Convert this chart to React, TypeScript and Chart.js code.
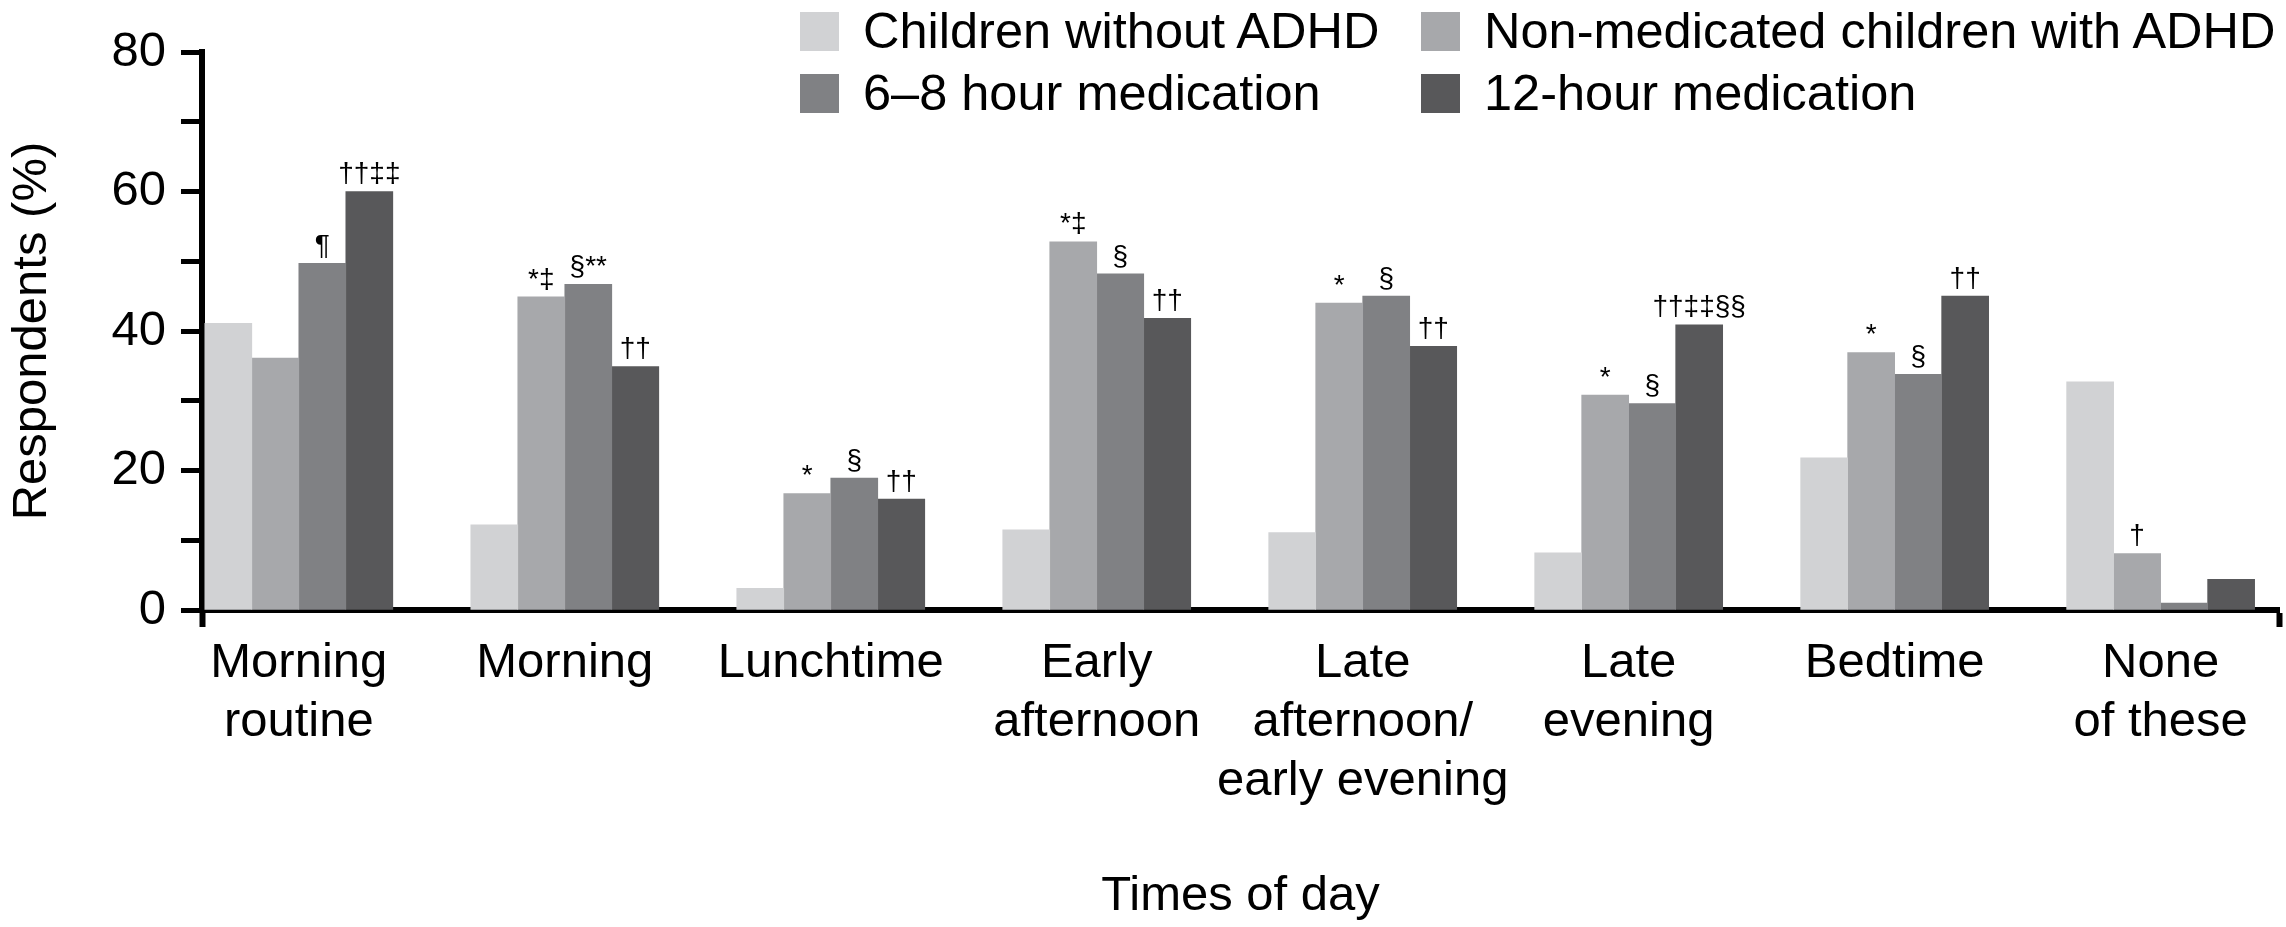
import React, { useEffect, useRef } from "react";
import { Chart, registerables } from "chart.js";

Chart.register(...registerables);

// Times of day (multi-line axis labels)
const categories: string[][] = [
  ["Morning", "routine"],
  ["Morning"],
  ["Lunchtime"],
  ["Early", "afternoon"],
  ["Late", "afternoon/", "early evening"],
  ["Late", "evening"],
  ["Bedtime"],
  ["None", "of these"]
];

const seriesNames = [
  "Children without ADHD",
  "Non-medicated children with ADHD",
  "6–8 hour medication",
  "12-hour medication"
];

// Respondents (%)
const withoutAdhd = [41.1, 12.2, 3.1, 11.5, 11.1, 8.2, 21.8, 32.7];
const nonMedicated = [36.1, 44.9, 16.7, 52.8, 44.0, 30.8, 36.9, 8.1];
const shortActing = [49.7, 46.7, 18.9, 48.2, 45.0, 29.6, 33.8, 1.0];
const longActing = [60.0, 34.9, 15.9, 41.8, 37.8, 40.9, 45.0, 4.4];

// significance marks above bars
const withoutAdhdMarks = ["", "", "", "", "", "", "", ""];
const nonMedicatedMarks = ["", "*‡", "*", "*‡", "*", "*", "*", "†"];
const shortActingMarks = ["¶", "§**", "§", "§", "§", "§", "§", ""];
const longActingMarks = ["††‡‡", "††", "††", "††", "††", "††‡‡§§", "††", ""];

const yTicks = [0, 20, 40, 60, 80];

const seriesValues = [withoutAdhd, nonMedicated, shortActing, longActing];
const seriesMarks = [withoutAdhdMarks, nonMedicatedMarks, shortActingMarks, longActingMarks];
const seriesColors = ["#d1d2d4", "#a7a8ab", "#808184", "#58585a"];

const FONT = '"Liberation Sans", Arial, Helvetica, sans-serif';

const marksPlugin = {
  id: "sigMarks",
  afterDatasetsDraw(chart: Chart) {
    const { ctx } = chart;
    ctx.save();
    ctx.font = `28px ${FONT}`;
    ctx.fillStyle = "#000";
    ctx.textAlign = "center";
    ctx.textBaseline = "bottom";
    seriesMarks.forEach((marks, d) => {
      const meta = chart.getDatasetMeta(d);
      meta.data.forEach((bar: any, i: number) => {
        if (marks[i]) ctx.fillText(marks[i], bar.x, bar.y - 3);
      });
    });
    ctx.restore();
  }
};

const App: React.FC = () => {
  const chartRef = useRef<HTMLCanvasElement>(null);
  const chartInstance = useRef<Chart | null>(null);

  useEffect(() => {
    if (!chartRef.current) return;
    if (chartInstance.current) chartInstance.current.destroy();

    const lastTick = categories.length + 1;

    chartInstance.current = new Chart(chartRef.current, {
      type: "bar",
      data: {
        datasets: seriesValues.map((values, d) => ({
          label: seriesNames[d],
          data: values.map((v, i) => ({ x: i, y: v })),
          backgroundColor: seriesColors[d],
          borderWidth: 0,
          barThickness: 47
        }))
      },
      plugins: [marksPlugin],
      options: {
        animation: false,
        responsive: true,
        maintainAspectRatio: false,
        layout: { padding: { top: 52, right: 5, left: 0, bottom: 0 } },
        plugins: {
          legend: { display: false },
          tooltip: { enabled: false }
        },
        scales: {
          x: {
            type: "linear",
            offset: false,
            min: -0.364,
            max: 7.445,
            // ticks at both ends (axis end marks) plus one per category
            afterBuildTicks: (axis: any) => {
              axis.ticks = [axis.min, ...categories.map((_, i) => i), axis.max].map(
                (value) => ({ value })
              );
            },
            afterFit: (scale: any) => {
              scale.height = 317;
            },
            ticks: {
              autoSkip: false,
              maxRotation: 0,
              padding: 7,
              color: "#000",
              font: { family: FONT, size: 49 },
              callback: (_value: any, index: number) =>
                index === 0 || index === lastTick ? "" : categories[index - 1]
            },
            grid: {
              offset: false,
              drawOnChartArea: false,
              drawTicks: true,
              tickLength: 17,
              tickWidth: 6,
              tickColor: (ctx: any) =>
                ctx.index === 0 || ctx.index === lastTick ? "#000" : "rgba(0,0,0,0)"
            },
            border: { display: true, color: "#000", width: 6 },
            title: {
              display: true,
              text: "Times of day",
              color: "#000",
              font: { family: FONT, size: 49 },
              padding: { top: 0, bottom: 1 }
            }
          },
          y: {
            min: 0,
            max: 80,
            afterFit: (scale: any) => {
              scale.width = 202;
            },
            ticks: {
              stepSize: 10,
              padding: 15,
              color: "#000",
              font: { family: FONT, size: 49 },
              callback: (value: any) => (yTicks.includes(Number(value)) ? String(value) : "")
            },
            grid: {
              drawOnChartArea: false,
              drawTicks: true,
              tickLength: 21,
              tickWidth: 5,
              tickColor: "#000"
            },
            border: { display: true, color: "#000", width: 6 },
            title: {
              display: true,
              text: "Respondents (%)",
              color: "#000",
              font: { family: FONT, size: 49 },
              padding: { top: 3, bottom: 0 }
            }
          }
        }
      } as any
    });

    return () => {
      if (chartInstance.current) {
        chartInstance.current.destroy();
        chartInstance.current = null;
      }
    };
  }, []);

  // legend laid out as a 2 x 2 grid, read row by row
  const legendOrder = [0, 1, 2, 3];

  return (
    <div
      style={{
        position: "fixed",
        left: 0,
        top: 0,
        width: 2286,
        height: 927,
        background: "#fff",
        fontFamily: FONT
      }}
    >
      <canvas ref={chartRef}></canvas>
      <div
        style={{
          position: "absolute",
          left: 800,
          top: 0,
          display: "grid",
          gridTemplateColumns: "621px auto",
          gridAutoRows: "62px",
          fontSize: 50.5,
          color: "#000"
        }}
      >
        {legendOrder.map((d) => (
          <div key={d} style={{ display: "flex", alignItems: "center", whiteSpace: "nowrap" }}>
            <span
              style={{
                display: "inline-block",
                width: 39,
                height: 39,
                background: seriesColors[d],
                marginRight: 24
              }}
            />
            <span style={{ lineHeight: "56px" }}>{seriesNames[d]}</span>
          </div>
        ))}
      </div>
    </div>
  );
};

export default App;
